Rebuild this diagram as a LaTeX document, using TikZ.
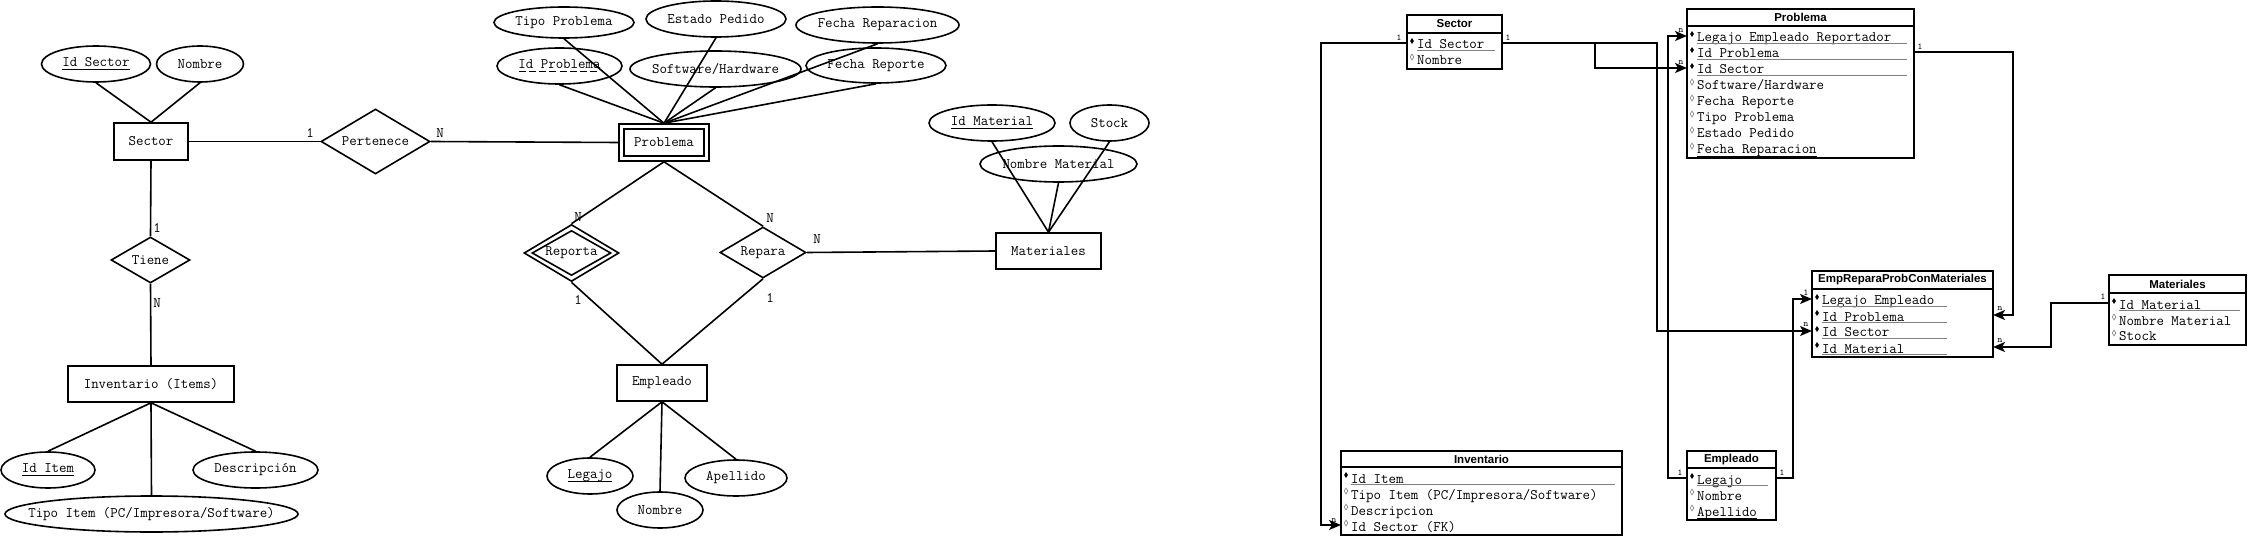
\documentclass[tikz,border=0pt]{standalone}
\usepackage{fontspec}
\setmainfont{Liberation Sans}
\newfontfamily\monof{Latin Modern Mono}
\usetikzlibrary{shapes.geometric,arrows.meta}
\newcommand\erfont{\monof\fontsize{14.5}{16}\selectfont}
\newcommand\ttlfont{\fontsize{11.5}{13}\selectfont\bfseries}
\newcommand\smlfont{\monof\fontsize{9}{10}\selectfont\bfseries}
\newcommand\ulsolid[1]{\setbox0\hbox{#1}\rlap{\vrule height -2pt depth 3.6pt width \wd0}\box0}
\newcommand\ulthin[1]{\setbox0\hbox{#1}\rlap{\vrule height -1.6pt depth 2.4pt width \wd0}\box0}
\newcommand\uldash[1]{\setbox0\hbox{#1}\rlap{\hbox to \wd0{\xleaders\hbox to 10pt{\vrule height -2pt depth 3.6pt width 7pt\hss}\hfill}}\box0}
\newcommand\mb[1]{\makebox[0pt]{#1}}
\newcommand\krow[5]{%
  \node[keym] (#1m) at ({#2+5},{#3-8}) {};
  \node[rowtxt] (#1) at ({#2+10},#3) {#4};
  \draw[ulg] ({#2+10},{#3+1.5}) -- (#5,{#3+1.5});
}
\newcommand\nrow[4]{%
  \node[nkm] (#1m) at ({#2+5},{#3-8}) {};
  \node[rowtxt] (#1) at ({#2+10},#3) {#4};
}
\tikzset{
 lw/.style={line width=1.6pt},
 ent/.style={draw, line width=1.6pt, rectangle, inner sep=0pt, font=\erfont},
 attr/.style={draw, line width=1.6pt, ellipse, inner sep=0pt, minimum height=36pt, font=\erfont},
 rel/.style={draw, line width=1.6pt, diamond, aspect=2, inner sep=0pt, font=\erfont},
 card/.style={font=\erfont, inner sep=0pt},
 ttl/.style={draw, line width=1.6pt, rectangle, inner sep=0pt, font=\ttlfont},
 tbody/.style={draw, line width=1.6pt, rectangle, inner sep=0pt},
 rowtxt/.style={anchor=base west, inner sep=0pt, font=\erfont},
 keym/.style={diamond, fill=black, inner sep=0pt, minimum width=4pt, minimum height=6pt},
 nkm/.style={diamond, draw=gray, line width=0.6pt, inner sep=0pt, minimum width=4pt, minimum height=6pt},
 ulg/.style={draw=gray, line width=1.3pt},
 conn/.style={line width=1.6pt},
 arr/.style={conn, -{Stealth[length=12pt,width=10pt,inset=3pt]}},
 tcard/.style={font=\smlfont, inner sep=0pt},
}
\begin{document}
\begin{tikzpicture}[x=1pt,y=-1pt]
\fill[white] (0,0) rectangle (2254,537);
\useasboundingbox (0,0) rectangle (2254,537);

% ===== ER: Sector / Inventario =====
\node[ent, minimum width=74pt, minimum height=37pt] (sector) at (151,141.5) {Sector};
\node[attr, minimum width=109pt] (idsector) at (96,64) {\mb{\ulsolid{Id Sector}}};
\node[attr, minimum width=87pt] (nombreS) at (200,64) {\mb{Nombre}};
\node[rel, minimum width=109pt, minimum height=65pt] (pert) at (375.5,141.5) {Pertenece};
\node[rel, minimum width=79pt, minimum height=46pt] (tiene) at (150.5,260) {Tiene};
\node[ent, minimum width=166pt, minimum height=36pt] (inv) at (151,384) {Inventario (Items)};
\node[attr, minimum width=94pt] (iditem) at (48,470) {\mb{\ulsolid{Id Item}}};
\node[attr, minimum width=125pt] (desc) at (255.5,470) {\mb{Descripción}};
\node[attr, minimum width=293pt] (tipoitem) at (151.5,514) {\mb{Tipo Item (PC/Impresora/Software)}};

\draw[lw] (idsector.south) -- (sector.north);
\draw[lw] (nombreS.south) -- (sector.north);
\draw[lw] (sector.east) -- (pert.west);
\draw[lw] (sector.south) -- (tiene.north);
\draw[lw] (tiene.south) -- (inv.north);
\draw[lw] (inv.south) -- (iditem.north);
\draw[lw] (inv.south) -- (desc.north);
\draw[lw] (inv.south) -- (tipoitem.north);

% ===== ER: Problema =====
\node[ent, minimum width=90pt, minimum height=37pt] (prob) at (664,142.5) {};
\node[ent, minimum width=80pt, minimum height=27pt] (probin) at (664,142.5) {Problema};
\node[attr, minimum width=140pt, minimum height=31pt] (tipoprob) at (564,22.5) {\mb{Tipo Problema}};
\node[attr, minimum width=140pt] (estado) at (716,19) {\mb{Estado Pedido}};
\node[attr, minimum width=163pt] (fecharep) at (877.5,25) {\mb{Fecha Reparacion}};
\node[attr, minimum width=125pt] (idprob) at (559.5,66) {\mb{\uldash{Id Problema}}};
\node[attr, minimum width=171pt] (swhw) at (715.5,69) {\mb{Software/Hardware}};
\node[attr, minimum width=140pt, minimum height=35pt] (fechareporte) at (876,65.5) {\mb{Fecha Reporte}};
\foreach \a in {tipoprob,estado,fecharep,idprob,swhw,fechareporte}
  \draw[lw] (\a.south) -- (prob.north);
\draw[lw] (pert.east) -- (prob.west);

\node[rel, minimum width=95pt, minimum height=57pt] (rep) at (571.5,253) {};
\node[rel, minimum width=79pt, minimum height=45pt] (repin) at (571.5,253) {Reporta};
\node[rel, minimum width=86pt, minimum height=51pt] (repa) at (763,252.5) {Repara};
\node[ent, minimum width=90pt, minimum height=36pt] (emp) at (662,383) {Empleado};
\node[attr, minimum width=86pt] (legajo) at (590,476) {\mb{\ulsolid{Legajo}}};
\node[attr, minimum width=86pt] (nombreE) at (660,510) {\mb{Nombre}};
\node[attr, minimum width=102pt] (apellido) at (736,478) {\mb{Apellido}};

\node[ent, minimum width=105pt, minimum height=36pt] (mat) at (1048.5,251) {Materiales};
\node[attr, minimum width=126pt] (idmat) at (992,123) {\mb{\ulsolid{Id Material}}};
\node[attr, minimum width=79pt] (stock) at (1109.5,123) {\mb{Stock}};
\node[attr, minimum width=157pt] (nommat) at (1058.5,164) {\mb{Nombre Material}};

\draw[lw] (prob.south) -- (rep.north);
\draw[lw] (prob.south) -- (repa.north);
\draw[lw] (repa.east) -- (mat.west);
\draw[lw] (rep.south) -- (emp.north);
\draw[lw] (repa.south) -- (emp.north);
\draw[lw] (emp.south) -- (legajo.north);
\draw[lw] (emp.south) -- (nombreE.north);
\draw[lw] (emp.south) -- (apellido.north);
\draw[lw] (idmat.south) -- (mat.north);
\draw[lw] (stock.south) -- (mat.north);
\draw[lw] (nommat.south) -- (mat.north);

\node[card] (c1) at (310,133) {1};
\node[card] (c2) at (440,133) {N};
\node[card] (c3) at (157,228) {1};
\node[card] (c4) at (157,303) {N};
\node[card] (c5) at (578,217) {N};
\node[card] (c6) at (770,218) {N};
\node[card] (c7) at (817,239) {N};
\node[card] (c8) at (578,300) {1};
\node[card] (c9) at (770,298) {1};

% ===== Relational tables =====
% Sector
\node[ttl, minimum width=95pt, minimum height=18pt] (secT) at (1454.5,24) {Sector};
\node[tbody, minimum width=95pt, minimum height=36pt] (secB) at (1454.5,51) {};
\krow{sr1}{1407}{49}{Id Sector}{1495}
\nrow{sr2}{1407}{65}{Nombre}
% Problema
\node[ttl, minimum width=227pt, minimum height=17pt] (probT) at (1800.5,17.5) {Problema};
\node[tbody, minimum width=227pt, minimum height=132pt] (probB) at (1800.5,92) {};
\krow{pr1}{1687}{42}{Legajo Empleado Reportador}{1907}
\krow{pr2}{1687}{58}{Id Problema}{1907}
\krow{pr3}{1687}{74}{Id Sector}{1907}
\nrow{pr4}{1687}{90}{Software/Hardware}
\nrow{pr5}{1687}{106}{Fecha Reporte}
\nrow{pr6}{1687}{122}{Tipo Problema}
\nrow{pr7}{1687}{138}{Estado Pedido}
\nrow{pr8}{1687}{154}{\ulthin{Fecha Reparacion}}
% EmpReparaProbConMateriales
\node[ttl, minimum width=181pt, minimum height=18pt] (erT) at (1902.5,280) {EmpReparaProbConMateriales};
\node[tbody, minimum width=181pt, minimum height=68pt] (erB) at (1902.5,323) {};
\krow{er1}{1812}{305}{Legajo Empleado}{1947}
\krow{er2}{1812}{321}{Id Problema}{1947}
\krow{er3}{1812}{337}{Id Sector}{1947}
\krow{er4}{1812}{353}{Id Material}{1947}
% Materiales
\node[ttl, minimum width=137pt, minimum height=18pt] (matT) at (2177.5,284) {Materiales};
\node[tbody, minimum width=137pt, minimum height=52pt] (matB) at (2177.5,319) {};
\krow{mr1}{2109}{309}{Id Material}{2240}
\nrow{mr2}{2109}{325}{Nombre Material}
\nrow{mr3}{2109}{341}{Stock}
% Inventario
\node[ttl, minimum width=281pt, minimum height=16pt] (invT) at (1481.5,459) {Inventario};
\node[tbody, minimum width=281pt, minimum height=68pt] (invB) at (1481.5,501) {};
\krow{ir1}{1341}{483}{Id Item}{1615}
\nrow{ir2}{1341}{499}{Tipo Item (PC/Impresora/Software)}
\nrow{ir3}{1341}{515}{Descripcion}
\nrow{ir4}{1341}{531}{Id Sector (FK)}
% Empleado
\node[ttl, minimum width=89pt, minimum height=17pt] (empT) at (1731.5,459.5) {Empleado};
\node[tbody, minimum width=89pt, minimum height=52pt] (empB) at (1731.5,494) {};
\krow{emr1}{1687}{484}{Legajo}{1768}
\nrow{emr2}{1687}{500}{Nombre}
\nrow{emr3}{1687}{516}{\ulthin{Apellido}}

% connector end points on table rows
\coordinate (secL) at (1407,43);
\coordinate (secR) at (1502,43);
\coordinate (probL1) at (1687,36);
\coordinate (probL3) at (1687,68);
\coordinate (probR2) at (1914,52);
\coordinate (erL1) at (1812,299);
\coordinate (erL3) at (1812,331);
\coordinate (erR2) at (1993,315);
\coordinate (erR4) at (1993,347);
\coordinate (matL1) at (2109,303);
\coordinate (invL4) at (1341,525);
\coordinate (empL1) at (1687,478);
\coordinate (empR1) at (1776,478);

% cardinality labels
\node[tcard] (t1) at (1399,38) {1};
\node[tcard] (t2) at (1508,38) {1};
\node[tcard] (t3) at (1681,31) {n};
\node[tcard] (t4) at (1681,63) {n};
\node[tcard] (t5) at (1920,47) {1};
\node[tcard] (t6) at (1680,473) {1};
\node[tcard] (t7) at (1782,473) {1};
\node[tcard] (t8) at (1806,293) {1};
\node[tcard] (t9) at (1806,325) {n};
\node[tcard] (t10) at (2000,309) {n};
\node[tcard] (t11) at (2000,341) {n};
\node[tcard] (t12) at (2103,297) {1};
\node[tcard] (t13) at (1334,521) {n};

\draw[arr] (secL) -- ++(-86,0) |- (invL4);
\draw[arr] (secR) -- ++(93,0) |- (probL3);
\draw[arr] (secR) -- ++(155,0) |- (erL3);
\draw[arr] (empL1) -- ++(-19,0) |- (probL1);
\draw[arr] (empR1) -- ++(17,0) |- (erL1);
\draw[arr] (probR2) -- ++(99,0) |- (erR2);
\draw[arr] (matL1) -- ++(-58,0) |- (erR4);
\end{tikzpicture}
\end{document}
